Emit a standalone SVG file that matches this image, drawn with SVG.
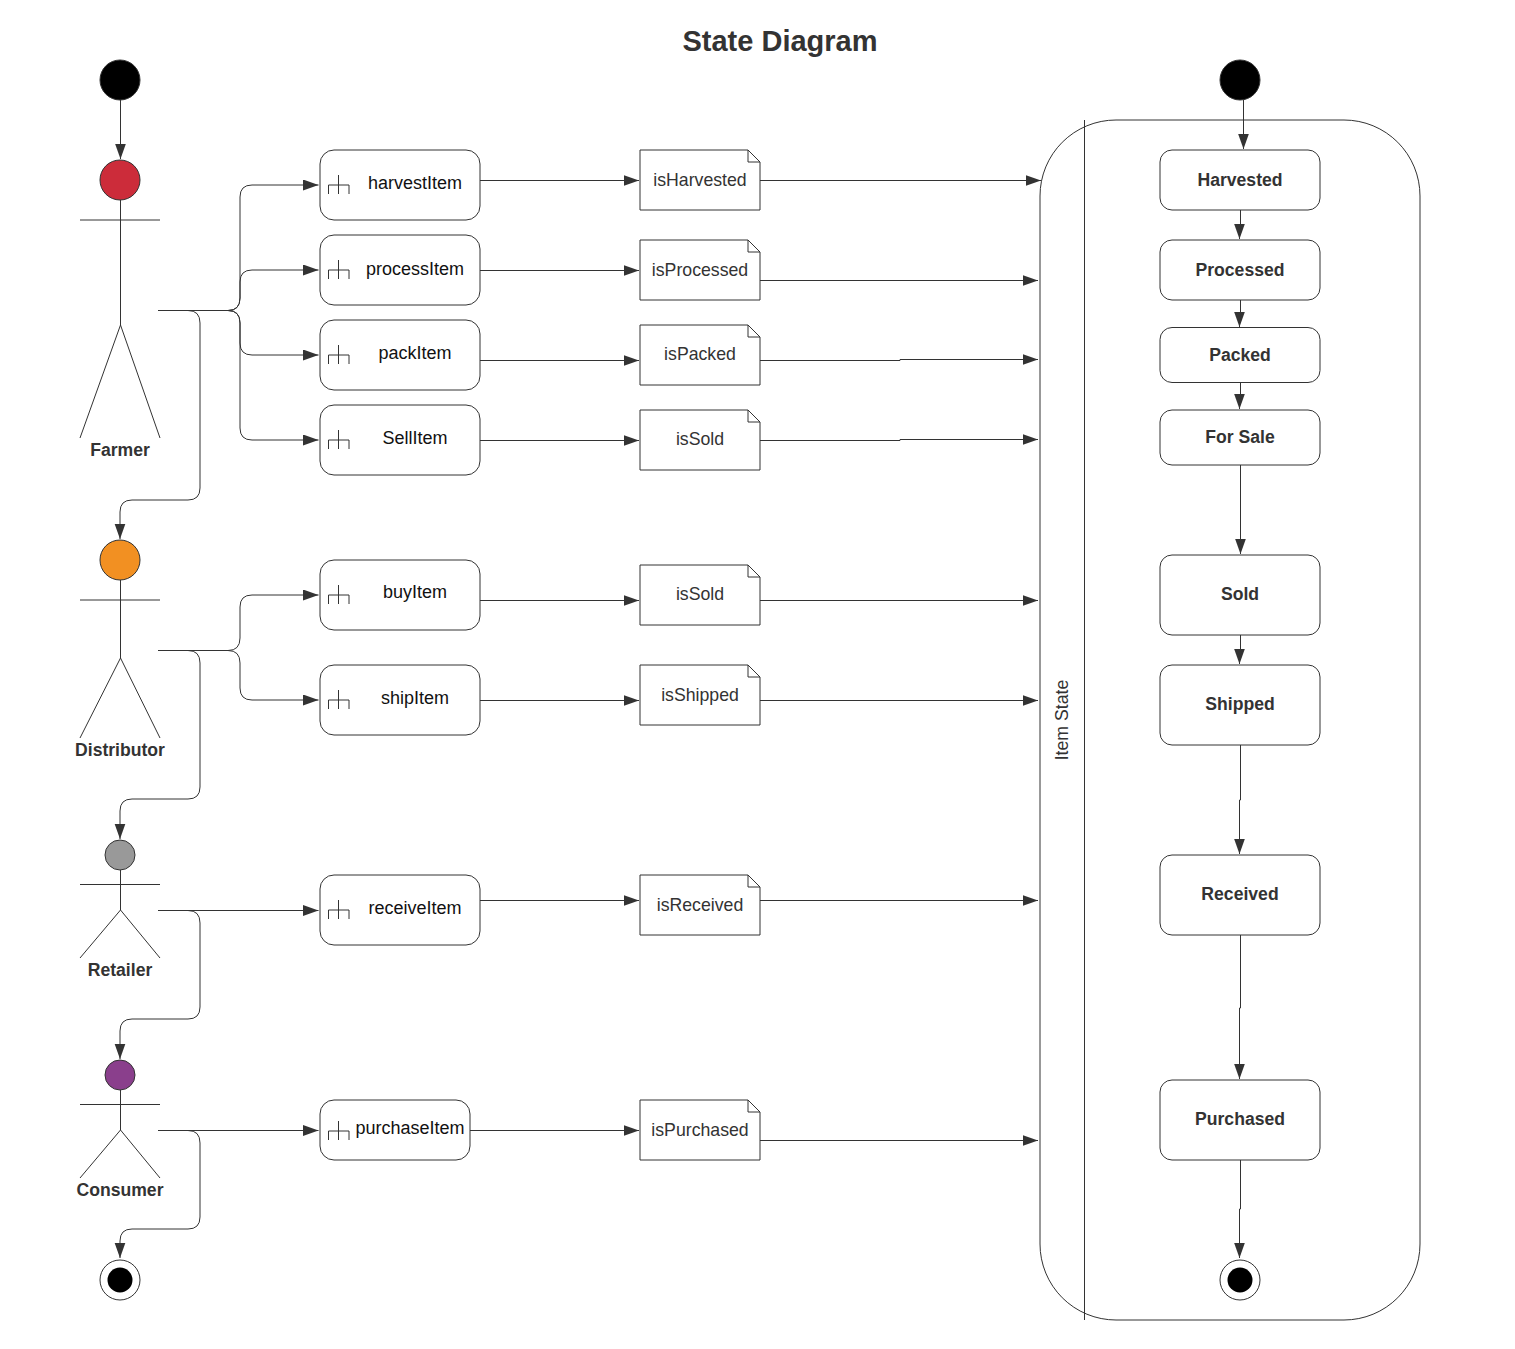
<svg xmlns="http://www.w3.org/2000/svg" width="1515" height="1349" viewBox="0 0 1515 1349">
<style>
text{font-family:"Liberation Sans",Arial,sans-serif;font-size:17.700px;fill:#333;text-anchor:middle}
.b{font-weight:bold;font-size:17.600px}
.t{fill:#111;font-size:18px}
.s{fill:#fff;stroke:#333;stroke-width:1}
.l{fill:none;stroke:#333;stroke-width:1}
.c{fill:none;stroke:#333;stroke-width:1;marker-end:url(#a)}
</style>
<defs>
<marker id="a" markerUnits="userSpaceOnUse" markerWidth="17" markerHeight="13" refX="15.500" refY="5.500" orient="auto"><path d="M0 0L15.500 5.500L0 11Z" fill="#333"/></marker>
<g id="task-icon"><path class="l" d="M328.500 194V185H349V194M338.500 175V194"/></g>
<g id="fold"><path class="l" d="M748 0V12H760"/></g>
</defs>
<rect width="1515" height="1349" fill="#fff"/>
<text id="title" x="780" y="51" class="b" style="font-size:29px">State Diagram</text>

<g id="item-state">
<rect class="s" x="1040" y="120" width="380" height="1200" rx="76" ry="76"/>
<path class="l" d="M1084.500 120V1320"/>
<text transform="translate(1067.500 720) rotate(-90)">Item State</text>
</g>

<g id="start-left"><circle cx="120" cy="80" r="20" fill="#000" stroke="#333"/></g>
<g id="start-right"><circle cx="1240" cy="80" r="20" fill="#000" stroke="#333"/></g>
<g id="end-left"><circle class="s" cx="120" cy="1280" r="20"/><circle cx="120" cy="1280" r="12.500" fill="#000"/></g>
<g id="end-right"><circle class="s" cx="1240" cy="1280" r="20"/><circle cx="1240" cy="1280" r="12.500" fill="#000"/></g>

<g id="farmer"><path class="l" d="M80 220H160M120.500 200V325L80 438M120.500 325L160 438"/><circle cx="120" cy="180" r="20" fill="#cc2c3a" stroke="#333"/><text x="120" y="455.500" class="b">Farmer</text></g>
<g id="distributor"><path class="l" d="M80 600H160M120.500 580V658L80 738M120.500 658L160 738"/><circle cx="120" cy="560" r="20" fill="#f29022" stroke="#333"/><text x="120" y="755.500" class="b">Distributor</text></g>
<g id="retailer"><path class="l" d="M80 884.500H160M120.500 870V910L80 958M120.500 910L160 958"/><circle cx="120" cy="855" r="15" fill="#999" stroke="#333"/><text x="120" y="975.500" class="b">Retailer</text></g>
<g id="consumer"><path class="l" d="M80 1104.500H160M120.500 1090V1130L80 1178M120.500 1130L160 1178"/><circle cx="120" cy="1075" r="15" fill="#8a3f8c" stroke="#333"/><text x="120" y="1195.500" class="b">Consumer</text></g>

<g id="task-harvestItem"><rect class="s" x="320" y="150" width="160" height="70" rx="14"/><use href="#task-icon"/><text class="t" x="415" y="189">harvestItem</text></g>
<g id="task-processItem"><rect class="s" x="320" y="235" width="160" height="70" rx="14"/><use href="#task-icon" y="85"/><text class="t" x="415" y="274.500">processItem</text></g>
<g id="task-packItem"><rect class="s" x="320" y="320" width="160" height="70" rx="14"/><use href="#task-icon" y="170"/><text class="t" x="415" y="359">packItem</text></g>
<g id="task-SellItem"><rect class="s" x="320" y="405" width="160" height="70" rx="14"/><use href="#task-icon" y="255"/><text class="t" x="415" y="443.500">SellItem</text></g>
<g id="task-buyItem"><rect class="s" x="320" y="560" width="160" height="70" rx="14"/><use href="#task-icon" y="410"/><text class="t" x="415" y="598">buyItem</text></g>
<g id="task-shipItem"><rect class="s" x="320" y="665" width="160" height="70" rx="14"/><use href="#task-icon" y="515"/><text class="t" x="415" y="704">shipItem</text></g>
<g id="task-receiveItem"><rect class="s" x="320" y="875" width="160" height="70" rx="14"/><use href="#task-icon" y="725"/><text class="t" x="415" y="914">receiveItem</text></g>
<g id="task-purchaseItem"><rect class="s" x="320" y="1100" width="150" height="60" rx="14"/><use href="#task-icon" y="946"/><text class="t" x="410" y="1134">purchaseItem</text></g>

<g id="doc-isHarvested"><path class="s" d="M640 150H748L760 162V210H640Z"/><use href="#fold" y="150"/><text x="700" y="185.500">isHarvested</text></g>
<g id="doc-isProcessed"><path class="s" d="M640 240H748L760 252V300H640Z"/><use href="#fold" y="240"/><text x="700" y="275.500">isProcessed</text></g>
<g id="doc-isPacked"><path class="s" d="M640 325H748L760 337V385H640Z"/><use href="#fold" y="325"/><text x="700" y="360">isPacked</text></g>
<g id="doc-isSold"><path class="s" d="M640 410H748L760 422V470H640Z"/><use href="#fold" y="410"/><text x="700" y="445">isSold</text></g>
<g id="doc-isSold-2"><path class="s" d="M640 565H748L760 577V625H640Z"/><use href="#fold" y="565"/><text x="700" y="600">isSold</text></g>
<g id="doc-isShipped"><path class="s" d="M640 665H748L760 677V725H640Z"/><use href="#fold" y="665"/><text x="700" y="700.500">isShipped</text></g>
<g id="doc-isReceived"><path class="s" d="M640 875H748L760 887V935H640Z"/><use href="#fold" y="875"/><text x="700" y="910.500">isReceived</text></g>
<g id="doc-isPurchased"><path class="s" d="M640 1100H748L760 1112V1160H640Z"/><use href="#fold" y="1100"/><text x="700" y="1135.500">isPurchased</text></g>

<g id="state-harvested"><rect class="s" x="1160" y="150" width="160" height="60" rx="12"/><text class="b" x="1240" y="185.500">Harvested</text></g>
<g id="state-processed"><rect class="s" x="1160" y="240" width="160" height="60" rx="12"/><text class="b" x="1240" y="275.500">Processed</text></g>
<g id="state-packed"><rect class="s" x="1160" y="327.500" width="160" height="55" rx="12"/><text class="b" x="1240" y="360.500">Packed</text></g>
<g id="state-forsale"><rect class="s" x="1160" y="410" width="160" height="55" rx="12"/><text class="b" x="1240" y="443">For Sale</text></g>
<g id="state-sold"><rect class="s" x="1160" y="555" width="160" height="80" rx="12"/><text class="b" x="1240" y="600">Sold</text></g>
<g id="state-shipped"><rect class="s" x="1160" y="665" width="160" height="80" rx="12"/><text class="b" x="1240" y="710">Shipped</text></g>
<g id="state-received"><rect class="s" x="1160" y="855" width="160" height="80" rx="12"/><text class="b" x="1240" y="900">Received</text></g>
<g id="state-purchased"><rect class="s" x="1160" y="1080" width="160" height="80" rx="12"/><text class="b" x="1240" y="1125">Purchased</text></g>

<g id="connectors">
<path class="c" d="M120.500 100V159"/>
<path class="c" d="M1243.500 100V149"/>
<path class="c" d="M1240.500 210V225H1239.500V239"/>
<path class="c" d="M1240.500 300V313H1239.500V327"/>
<path class="c" d="M1240.500 382V395H1239.500V409"/>
<path class="c" d="M1240.500 465V554"/>
<path class="c" d="M1240.500 635V650H1239.500V664"/>
<path class="c" d="M1240.500 745V800H1239.500V854"/>
<path class="c" d="M1240.500 935V1008H1239.500V1079"/>
<path class="c" d="M1240.500 1160V1209H1239.500V1258"/>

<path class="c" d="M158 310.500H228Q240 310.500 240 298V197Q240 185 252 185H318.500"/>
<path class="c" d="M158 310.500H228Q240 310.500 240 298V282Q240 270 252 270H318.500"/>
<path class="c" d="M158 310.500H228Q240 310.500 240 323V343Q240 355 252 355H318.500"/>
<path class="c" d="M158 310.500H228Q240 310.500 240 323V428Q240 440 252 440H318.500"/>
<path class="c" d="M158 310.500H188Q200 310.500 200 323V488Q200 500 188 500H132Q120 500 120 512V539"/>
<path class="c" d="M158 650.500H228Q240 650.500 240 638V607Q240 595 252 595H318.500"/>
<path class="c" d="M158 650.500H228Q240 650.500 240 663V688Q240 700 252 700H318.500"/>
<path class="c" d="M158 650.500H188Q200 650.500 200 663V787Q200 799 188 799H132Q120 799 120 811V839"/>
<path class="c" d="M158 910.500H318.500"/>
<path class="c" d="M158 910.500H188Q200 910.500 200 923V1007Q200 1019 188 1019H132Q120 1019 120 1031V1059"/>
<path class="c" d="M158 1130.500H318.500"/>
<path class="c" d="M158 1130.500H188Q200 1130.500 200 1143V1217Q200 1229 188 1229H132Q120 1229 120 1241V1258"/>

<path class="c" d="M480 180.500H639"/>
<path class="c" d="M480 270.500H639"/>
<path class="c" d="M480 360.500H639"/>
<path class="c" d="M480 440.500H639"/>
<path class="c" d="M480 600.500H639"/>
<path class="c" d="M480 700.500H639"/>
<path class="c" d="M480 900.500H639"/>
<path class="c" d="M470 1130.500H639"/>

<path class="c" d="M760 180.500H1041"/>
<path class="c" d="M760 280.500H1038"/>
<path class="c" d="M760 360.500H900V359.500H1038"/>
<path class="c" d="M760 440.500H900V439.500H1038"/>
<path class="c" d="M760 600.500H1038"/>
<path class="c" d="M760 700.500H1038"/>
<path class="c" d="M760 900.500H1038"/>
<path class="c" d="M760 1140.500H1038"/>
</g>
</svg>
